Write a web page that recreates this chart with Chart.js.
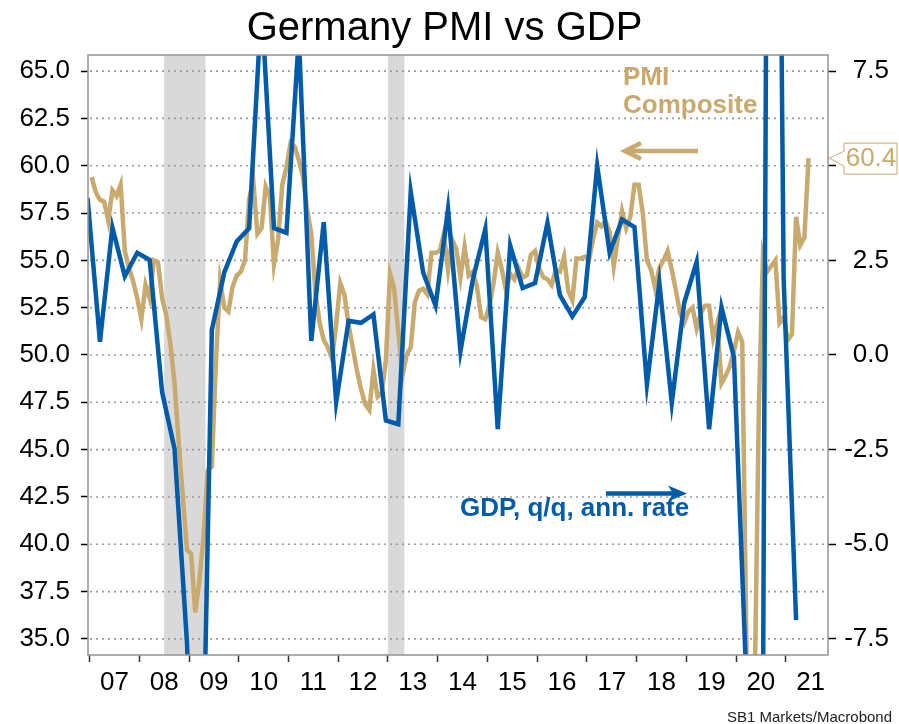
<!DOCTYPE html>
<html><head><meta charset="utf-8">
<script src="https://cdn.jsdelivr.net/npm/chart.js@4"></script>
<style>html,body{margin:0;padding:0;background:#fff}#wrap{width:899px;height:724px;position:relative}</style>
</head><body><div id="wrap"><canvas id="c"></canvas></div>
<script>
// ---------------- data ----------------
const chartTitle = 'Germany PMI vs GDP';
const sourceText = 'SB1 Markets/Macrobond';
const pmiLabel = ['PMI', 'Composite'];
const gdpLabel = 'GDP, q/q, ann. rate';

// Germany composite PMI, monthly, starting Jan 2007
const pmiStartYear = 2007;
const pmi2007 = [59.4, 58.6, 58.2, 58.1, 57.1, 58.7, 58.4, 59.0, 55.5, 54.6, 53.9, 53.0];
const pmi2008 = [51.9, 53.7, 53.0, 55.0, 54.9, 53.0, 52.1, 50.6, 48.5, 45.4, 42.5, 39.7];
const pmi2009 = [39.5, 36.4, 38.1, 40.4, 43.9, 44.1, 49.7, 53.9, 52.5, 52.3, 53.6, 54.2];
const pmi2010 = [54.4, 55.0, 58.2, 59.2, 56.4, 56.7, 58.9, 58.4, 54.8, 56.1, 59.0, 59.9];
const pmi2011 = [61.2, 61.0, 60.3, 59.4, 57.7, 56.4, 53.3, 51.7, 50.8, 50.4, 49.8, 51.6];
const pmi2012 = [53.8, 53.2, 51.6, 50.4, 49.2, 48.2, 47.4, 47.1, 49.2, 47.8, 48.0, 49.7];
const pmi2013 = [54.3, 53.5, 51.2, 48.9, 50.0, 50.4, 52.8, 53.4, 53.5, 53.2, 55.4, 55.4];
const pmi2014 = [55.5, 56.4, 54.5, 56.1, 55.6, 54.1, 55.7, 54.2, 54.4, 53.6, 52.0, 51.9];
const pmi2015 = [52.6, 53.8, 55.4, 54.5, 53.4, 54.3, 54.0, 54.6, 54.1, 54.2, 55.3, 55.5];
const pmi2016 = [54.6, 54.1, 54.0, 53.7, 54.5, 54.4, 55.2, 53.4, 52.9, 55.1, 55.1, 55.2];
const pmi2017 = [55.0, 56.1, 57.0, 56.8, 57.1, 56.5, 54.7, 56.2, 57.6, 56.7, 57.3, 59.0];
const pmi2018 = [59.0, 57.5, 55.0, 54.5, 53.5, 54.6, 55.0, 55.5, 54.5, 53.4, 52.2, 51.7];
const pmi2019 = [52.3, 52.5, 51.4, 52.2, 52.6, 52.6, 50.9, 51.7, 48.5, 48.9, 49.4, 50.2];
const pmi2020 = [51.2, 50.7, 35.0, 17.4, 32.3, 47.0, 55.3, 54.4, 54.7, 55.0, 51.7, 52.0];
const pmi2021 = [50.8, 51.1, 57.3, 55.8, 56.2, 60.4];

// German GDP q/q annualised, quarterly, starting 2006Q4
const gdpStartYear = 2006;
const gdpStartQuarter = 4;
const gdpValues = [
  4.15,
  0.35, 3.37, 2.08, 2.70,
  2.51, -0.98, -2.48, -7.6,
  -16.0, 0.66, 2.18, 3.0,
  3.35, 9.3, 3.35, 3.23,
  8.4, 0.37, 3.51, -1.25,
  0.9, 0.85, 1.07, -1.73,
  -1.83, 4.31, 2.18, 1.3,
  3.85, 0.1, 2.0, 3.33,
  -1.96, 2.89, 1.77, 1.9,
  3.49, 1.58, 1.02, 1.53,
  5.0, 2.7, 3.58, 3.38,
  -0.78, 1.9, -1.27, 1.38,
  2.46, -1.96, 1.26, -0.06,
  -8.6, -33.5, 38.5, 2.0,
  -7.0
];

const leftTicks = [35, 37.5, 40, 42.5, 45, 47.5, 50, 52.5, 55, 57.5, 60, 62.5, 65];
const rightTicks = [-7.5, -5, -2.5, 0, 2.5, 5, 7.5];
const yearTicks = [2007, 2008, 2009, 2010, 2011, 2012, 2013, 2014, 2015, 2016, 2017, 2018, 2019, 2020, 2021];
const yearLabels = ['07', '08', '09', '10', '11', '12', '13', '14', '15', '16', '17', '18', '19', '20', '21'];
const recessionStart = [2008.5, 2013.0];
const recessionEnd = [2009.33, 2013.33];

// ---------------- build ----------------
const FONT = '"Liberation Sans", Arial, Helvetica, sans-serif';
const TAN = '#C8A96E';
const BLUE = '#005BAA';

const pmiValues = [].concat(pmi2007, pmi2008, pmi2009, pmi2010, pmi2011, pmi2012, pmi2013,
  pmi2014, pmi2015, pmi2016, pmi2017, pmi2018, pmi2019, pmi2020, pmi2021);
const pmiPoints = pmiValues.map((v, i) => ({ x: pmiStartYear + (i + 0.5) / 12, y: v }));
const gdpPoints = gdpValues.map((v, i) => {
  const k = gdpStartYear * 4 + (gdpStartQuarter - 1) + i;
  const yr = Math.floor(k / 4), q = (k % 4) + 1;
  return { x: yr + (3 * q - 0.5) / 12, y: v };
});

const xMin = 2006.968, xMax = 2021.85;
const leftMin = 34.15, leftMax = 65.85;
const xTickValues = [];
yearTicks.forEach(y => { xTickValues.push(y); xTickValues.push(y + 0.5); });

const decor = {
  id: 'decor',
  beforeDatasetsDraw(chart) {
    const { ctx, chartArea: a, scales: { x, yL } } = chart;
    ctx.save();
    ctx.fillStyle = '#D9D9D9';
    recessionStart.forEach((s, i) => {
      const x0 = x.getPixelForValue(s), x1 = x.getPixelForValue(recessionEnd[i]);
      ctx.fillRect(x0, a.top, x1 - x0, a.bottom - a.top);
    });
    ctx.strokeStyle = '#9A9A9A';
    ctx.lineWidth = 1.6;
    ctx.setLineDash([2, 4]);
    leftTicks.forEach(v => {
      const y = yL.getPixelForValue(v);
      ctx.beginPath(); ctx.moveTo(a.left + 2, y); ctx.lineTo(a.right, y); ctx.stroke();
    });
    ctx.restore();
  },
  afterDatasetsDraw(chart) {
    const { ctx, chartArea: a, scales: { yL } } = chart;
    ctx.save();
    // frame
    ctx.strokeStyle = '#999999';
    ctx.lineWidth = 1.6;
    ctx.strokeRect(a.left, a.top, a.right - a.left, a.bottom - a.top);

    // PMI annotation
    ctx.fillStyle = TAN;
    ctx.font = 'bold 26px ' + FONT;
    ctx.textAlign = 'left';
    ctx.textBaseline = 'alphabetic';
    ctx.fillText(pmiLabel[0], 623, 85);
    ctx.fillText(pmiLabel[1], 623, 113);
    ctx.strokeStyle = TAN;
    ctx.lineWidth = 4.5;
    ctx.lineCap = 'butt';
    ctx.beginPath(); ctx.moveTo(698, 151); ctx.lineTo(627, 151); ctx.stroke();
    ctx.beginPath(); ctx.moveTo(641, 143); ctx.lineTo(625, 151); ctx.lineTo(641, 159); ctx.stroke();

    // GDP annotation
    ctx.fillStyle = BLUE;
    ctx.fillText(gdpLabel, 460, 515.5);
    ctx.strokeStyle = BLUE;
    ctx.beginPath(); ctx.moveTo(606, 493.5); ctx.lineTo(676, 493.5); ctx.stroke();
    ctx.beginPath();
    ctx.moveTo(687, 493.5); ctx.lineTo(668, 485.5); ctx.lineTo(673, 493.5); ctx.lineTo(668, 501.5);
    ctx.closePath(); ctx.fill();

    // last value box
    const last = pmiValues[pmiValues.length - 1];
    const ty = yL.getPixelForValue(last);
    const tipX = a.right + 1.5, bx0 = 844, bx1 = 897;
    ctx.beginPath();
    ctx.moveTo(tipX, ty);
    ctx.lineTo(bx0, ty - 7);
    ctx.lineTo(bx0, ty - 15);
    ctx.lineTo(bx1, ty - 15);
    ctx.lineTo(bx1, ty + 16);
    ctx.lineTo(bx0, ty + 16);
    ctx.lineTo(bx0, ty + 8);
    ctx.closePath();
    ctx.fillStyle = '#FFFFFF';
    ctx.fill();
    ctx.strokeStyle = TAN;
    ctx.lineWidth = 1;
    ctx.stroke();
    ctx.fillStyle = TAN;
    ctx.font = '26px ' + FONT;
    ctx.textAlign = 'center';
    ctx.textBaseline = 'middle';
    ctx.fillText(last.toFixed(1), (bx0 + bx1) / 2 + 0.5, ty + 1);

    // source
    ctx.fillStyle = '#222222';
    ctx.font = '15px ' + FONT;
    ctx.textAlign = 'right';
    ctx.textBaseline = 'alphabetic';
    ctx.fillText(sourceText, 892, 722);
    ctx.restore();
  }
};

new Chart(document.getElementById('c'), {
  type: 'line',
  data: {
    datasets: [
      { label: gdpLabel, data: gdpPoints, yAxisID: 'yR', borderColor: BLUE, backgroundColor: BLUE,
        borderWidth: 4.5, pointRadius: 0, tension: 0, clip: 0, fill: false },
      { label: pmiLabel.join(' '), data: pmiPoints, yAxisID: 'yL', borderColor: TAN, backgroundColor: TAN,
        borderWidth: 4.5, pointRadius: 0, tension: 0, clip: 0, fill: false }
    ]
  },
  options: {
    responsive: true,
    maintainAspectRatio: false,
    devicePixelRatio: 1,
    animation: false,
    layout: { padding: { left: 0, right: 10, top: 0, bottom: 24 } },
    plugins: {
      legend: { display: false },
      tooltip: { enabled: false },
      title: { display: true, text: chartTitle, color: '#000',
        font: { family: FONT, size: 40, weight: 'normal' }, padding: { top: 5, bottom: 2 } }
    },
    scales: {
      x: {
        type: 'linear', min: xMin, max: xMax, position: 'bottom',
        afterBuildTicks: s => { s.ticks = xTickValues.map(v => ({ value: v })); },
        ticks: {
          autoSkip: false, maxRotation: 0, minRotation: 0, padding: 5, color: '#000',
          font: { family: FONT, size: 26 },
          callback: v => (Number.isInteger(v) ? '' : yearLabels[yearTicks.indexOf(Math.floor(v))])
        },
        grid: {
          drawOnChartArea: false, drawTicks: true, tickLength: 7, tickWidth: 1.5,
          color: c => (c.tick && Number.isInteger(c.tick.value)) ? '#333' : 'rgba(0,0,0,0)',
          tickColor: c => (c.tick && Number.isInteger(c.tick.value)) ? '#333' : 'rgba(0,0,0,0)'
        },
        border: { display: false },
        afterFit: s => { s.height = 45; }
      },
      yL: {
        type: 'linear', position: 'left', min: leftMin, max: leftMax,
        afterBuildTicks: s => { s.ticks = leftTicks.map(v => ({ value: v })); },
        ticks: { autoSkip: false, padding: 11, color: '#000', font: { family: FONT, size: 26 },
          callback: v => Number(v).toFixed(1) },
        grid: { drawOnChartArea: false, tickLength: 7, tickWidth: 1.5, color: '#000', tickColor: '#000' },
        border: { display: false },
        afterFit: s => { s.width = 88; }
      },
      yR: {
        type: 'linear', position: 'right', min: (leftMin - 50) / 2, max: (leftMax - 50) / 2,
        afterBuildTicks: s => { s.ticks = rightTicks.map(v => ({ value: v })); },
        ticks: { autoSkip: false, crossAlign: 'far', padding: 6, color: '#000', font: { family: FONT, size: 26 },
          callback: v => Number(v).toFixed(1) },
        grid: { drawOnChartArea: false, tickLength: 8, tickWidth: 1.5, color: '#000', tickColor: '#000' },
        border: { display: false },
        afterFit: s => { s.width = 61; }
      }
    }
  },
  plugins: [decor]
});
</script>
</body></html>
